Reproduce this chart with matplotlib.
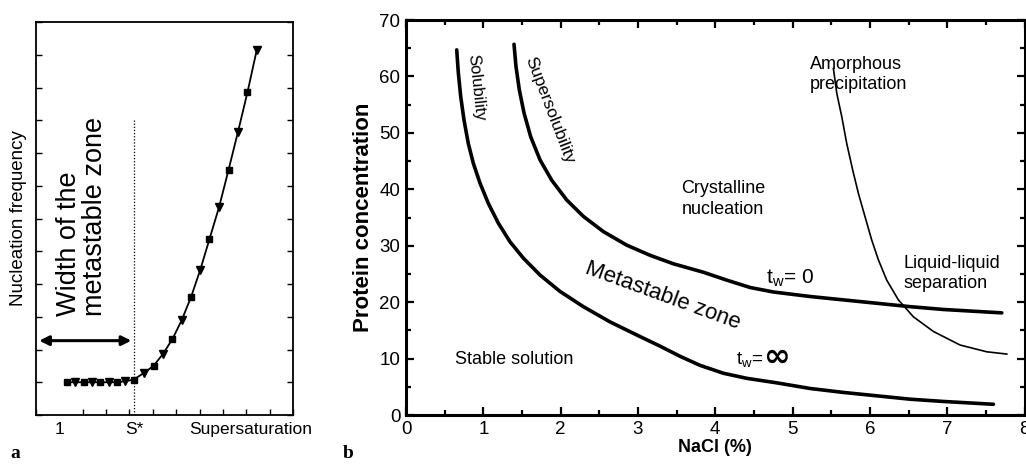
import numpy as np
import matplotlib.pyplot as plt
from matplotlib.ticker import MultipleLocator, FixedLocator

plt.rcParams['font.family'] = ['Liberation Sans', 'DejaVu Sans']

# ── Panel a: nucleation frequency vs supersaturation ─────────────────────────
s_vals = [1.033, 1.068, 1.104, 1.140, 1.175, 1.211, 1.247, 1.282, 1.318,
          1.363, 1.403, 1.443, 1.484, 1.524, 1.564, 1.603, 1.642, 1.684,
          1.724, 1.764, 1.805, 1.845]
nuc_vals = [1.0, 1.0, 1.0, 1.0, 1.0, 1.0, 1.0, 1.03, 1.08,
            1.29, 1.50, 1.86, 2.32, 2.90, 3.61, 4.43, 5.36, 6.36,
            7.48, 8.63, 9.85, 11.15]
s_star = 1.32
a_tick_pos = [1.0, 1.32, 1.82]
a_tick_lbl = ["1", "S*", "Supersaturation"]

# ── Panel b: phase diagram (NaCl %, protein concentration) ───────────────────
sol_x = [0.656, 0.677, 0.708, 0.750, 0.806, 0.871, 0.957, 1.065, 1.194,
         1.345, 1.518, 1.734, 1.992, 2.294, 2.639, 3.027, 3.286, 3.545,
         3.803, 4.105, 4.407, 4.795, 5.226, 5.657, 6.089, 6.520, 6.951, 7.598]
sol_y = [64.7, 60.6, 56.4, 52.3, 48.1, 44.6, 41.1, 37.5, 34.0,
         30.7, 27.8, 24.8, 21.9, 19.2, 16.5, 13.9, 12.2, 10.4,
         8.8, 7.4, 6.5, 5.7, 4.7, 4.0, 3.4, 2.8, 2.4, 1.9]
sup_x = [1.397, 1.423, 1.466, 1.527, 1.613, 1.734, 1.885, 2.079, 2.294,
         2.553, 2.855, 3.157, 3.458, 3.846, 4.149, 4.450, 4.752, 5.226,
         5.657, 6.089, 6.520, 6.951, 7.706]
sup_y = [65.7, 61.7, 57.6, 53.5, 49.3, 45.2, 41.6, 38.1, 35.2,
         32.5, 30.1, 28.3, 26.8, 25.3, 23.9, 22.6, 21.8, 21.0,
         20.4, 19.8, 19.2, 18.7, 18.1]
amo_x = [5.528, 5.572, 5.636, 5.701, 5.778, 5.851, 5.938, 6.024, 6.110,
         6.218, 6.369, 6.563, 6.822, 7.167, 7.512, 7.771]
amo_y = [61.4, 57.0, 52.9, 48.1, 43.4, 39.3, 35.1, 31.0, 27.5,
         23.9, 20.4, 17.4, 14.8, 12.4, 11.2, 10.8]

W, H = 1026, 467
fig = plt.figure(figsize=(W / 100, H / 100), dpi=100)

# ── Panel a ──────────────────────────────────────────────────────────────────
ax_a = fig.add_axes([36 / W, 1 - 415 / H, (293 - 36) / W, (415 - 22) / H])
ax_a.plot(s_vals, nuc_vals, color='black', lw=1.3, zorder=2)
ax_a.plot(s_vals[0::2], nuc_vals[0::2], 's', color='black', ms=5, zorder=3)
ax_a.plot(s_vals[1::2], nuc_vals[1::2], 'v', color='black', ms=6, zorder=3)
ax_a.vlines(s_star, 0, 9.05, colors='black', linestyles=(0, (1, 1.5)), lw=0.9)
ax_a.annotate("", xy=(0.902, 2.27), xytext=(s_star, 2.27),
              arrowprops=dict(arrowstyle='<|-|>', color='black', lw=2.2,
                              mutation_scale=14))
ax_a.text(1.096, 6.05, "Width of the\nmetastable zone", rotation=90,
          ha='center', va='center', multialignment='left',
          fontsize=19.5, linespacing=1.0)

ax_a.set_xlim(0.9, 2.0)
ax_a.set_ylim(0, 12)
ax_a.xaxis.set_major_locator(FixedLocator(a_tick_pos))
ax_a.set_xticklabels(a_tick_lbl, fontsize=12.5)
ax_a.xaxis.set_minor_locator(MultipleLocator(0.1))
ax_a.yaxis.set_major_locator(MultipleLocator(1))
ax_a.set_yticklabels([])
ax_a.tick_params(axis='x', which='major', length=0, pad=5)
ax_a.tick_params(axis='x', which='minor', direction='in', length=4, width=1)
ax_a.tick_params(axis='y', direction='in', length=4, width=1,
                 left=True, right=True)
ax_a.set_ylabel("Nucleation frequency", fontsize=13.5, labelpad=3)
for sp in ax_a.spines.values():
    sp.set_linewidth(1.3)

fig.text(10 / W, 1 - 458 / H, "a", fontsize=14, fontweight='bold',
         family='Liberation Serif')

# ── Panel b ──────────────────────────────────────────────────────────────────
ax_b = fig.add_axes([406 / W, 1 - 415 / H, (1024.5 - 406) / W, (415 - 20) / H])
ax_b.plot(sol_x, sol_y, color='black', lw=2.6, solid_capstyle='round',
          solid_joinstyle='round')
ax_b.plot(sup_x, sup_y, color='black', lw=2.6, solid_capstyle='round',
          solid_joinstyle='round')
ax_b.plot(amo_x, amo_y, color='black', lw=1.2, solid_joinstyle='round')

ax_b.set_xlim(0, 8)
ax_b.set_ylim(0, 70)
ax_b.xaxis.set_major_locator(MultipleLocator(1))
ax_b.xaxis.set_minor_locator(MultipleLocator(0.5))
ax_b.yaxis.set_major_locator(MultipleLocator(10))
ax_b.yaxis.set_minor_locator(MultipleLocator(5))
ax_b.tick_params(which='both', direction='in', top=True, right=True,
                 labelsize=13.5, width=1.6)
ax_b.tick_params(which='major', length=6, pad=4)
ax_b.tick_params(which='minor', length=3.5)
for sp in ax_b.spines.values():
    sp.set_linewidth(2.2)
ax_b.set_xlabel("NaCl (%)", fontsize=13, fontweight='bold', labelpad=1)
ax_b.set_ylabel("Protein concentration", fontsize=16, fontweight='bold',
                labelpad=4)

ax_b.text(0.91, 58.0, "Solubility", rotation=-84, ha='center', va='center',
          fontsize=12, rotation_mode='anchor')
ax_b.text(1.86, 54.0, "Supersolubility", rotation=-69, ha='center',
          va='center', fontsize=12.5, rotation_mode='anchor')
ax_b.text(3.32, 21.1, "Metastable zone", rotation=-20, ha='center',
          va='center', fontsize=16, rotation_mode='anchor')
ax_b.text(0.64, 9.9, "Stable solution", ha='left', va='center', fontsize=13)
ax_b.text(3.565, 38.3, "Crystalline\nnucleation", ha='left', va='center',
          fontsize=13, linespacing=1.25)
ax_b.text(5.22, 60.4, "Amorphous\nprecipitation", ha='left', va='center',
          fontsize=13, linespacing=1.25)
ax_b.text(6.44, 25.1, "Liquid-liquid\nseparation", ha='left', va='center',
          fontsize=13, linespacing=1.25)
ax_b.text(4.65, 24.2, r"t$_\mathregular{w}$= 0", ha='left', va='center',
          fontsize=15)
ax_b.text(4.27, 9.7, r"t$_\mathregular{w}$=", ha='left', va='center',
          fontsize=13.5)
ax_b.text(4.615, 10.3, "∞", ha='left', va='center', fontsize=23,
          fontweight='bold', family='DejaVu Sans')

fig.text(343 / W, 1 - 458 / H, "b", fontsize=14, fontweight='bold',
         family='Liberation Serif')

fig.savefig("out.png", dpi=100)
